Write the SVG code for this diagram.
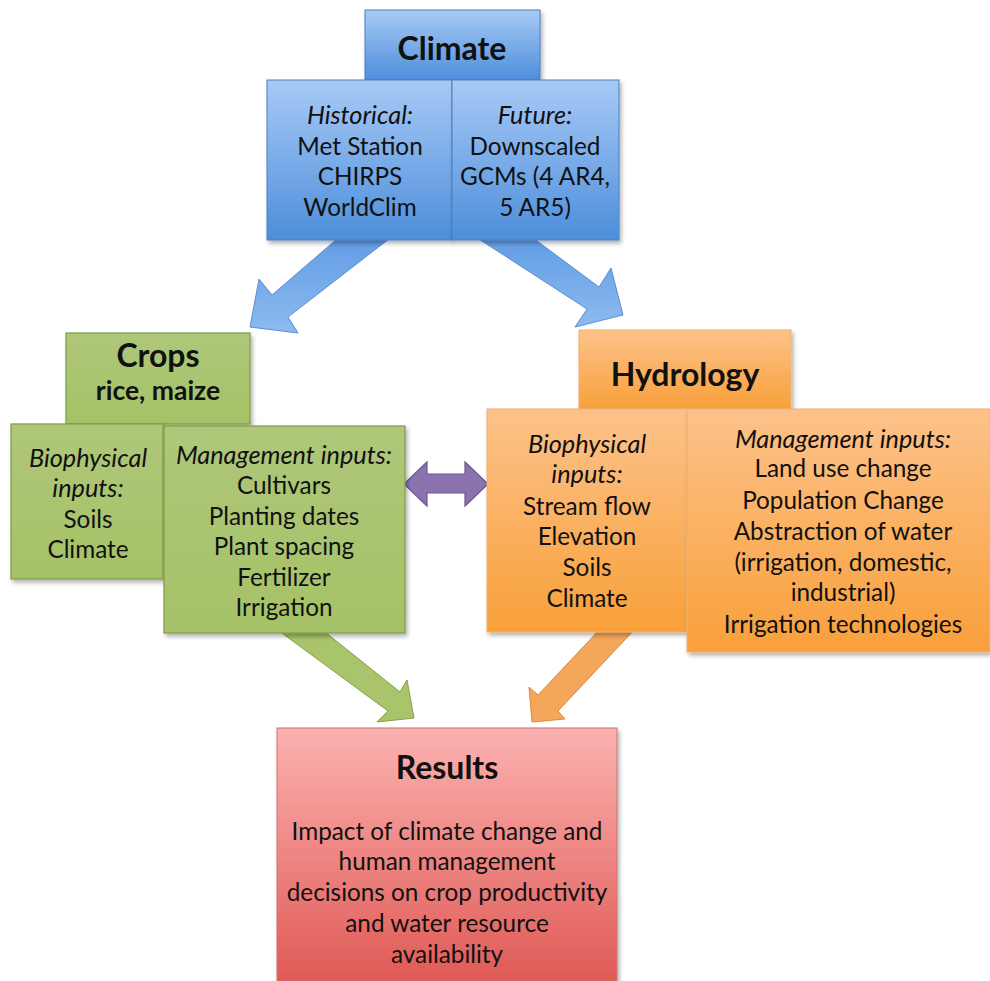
<svg xmlns="http://www.w3.org/2000/svg" width="990" height="981" viewBox="0 0 990 981">
<defs>
<linearGradient id="gBlue" x1="0" y1="0" x2="0" y2="1"><stop offset="0" stop-color="#a8caf5"/><stop offset="1" stop-color="#4d8edb"/></linearGradient>
<linearGradient id="gBlueArr" x1="0" y1="0" x2="0" y2="1"><stop offset="0" stop-color="#5f9be3"/><stop offset="1" stop-color="#8dbaf0"/></linearGradient>
<linearGradient id="gGreen" x1="0" y1="0" x2="0" y2="1"><stop offset="0" stop-color="#aec77a"/><stop offset="1" stop-color="#a6c266"/></linearGradient>
<linearGradient id="gOrange" x1="0" y1="0" x2="0" y2="1"><stop offset="0" stop-color="#fdc28a"/><stop offset="1" stop-color="#f8a03a"/></linearGradient>
<linearGradient id="gRed" x1="0" y1="0" x2="0" y2="1"><stop offset="0" stop-color="#fbb2b0"/><stop offset="1" stop-color="#e05a56"/></linearGradient>
<filter id="sh" x="-10%" y="-10%" width="120%" height="120%"><feDropShadow dx="2" dy="3" stdDeviation="2" flood-color="#000" flood-opacity="0.3"/></filter>
</defs>
<style>
text{font-family:Lato,"Open Sans","Liberation Sans",sans-serif;fill:#111;text-anchor:middle}
.t{font-weight:bold;font-size:32px}
.s{font-weight:bold;font-size:26.5px}
.b{font-size:24.3px}
.i{font-style:italic;font-size:25.3px}
.blue{fill:url(#gBlue);stroke:#4a7fc4;stroke-width:1}
.green{fill:url(#gGreen);stroke:#7f9c43;stroke-width:1.2}
.orange{fill:url(#gOrange);stroke:#f0b070;stroke-width:1}
.red{fill:url(#gRed);stroke:#d07070;stroke-width:1}
</style>
<g id="connectors">
<polygon points="345,232 272,295 259,279 250,327 298,333 288,317 398,232" fill="url(#gBlueArr)" stroke="#5b8fd0" stroke-width="1"/>
<polygon points="468,232 587,309 575,327 623,315 611,268 599,287 525,232" fill="url(#gBlueArr)" stroke="#5b8fd0" stroke-width="1"/>
<polygon points="275,628 388,711 377,722 414,718 407,680 400,692 320,628" fill="#a9c46b" stroke="#86a04a" stroke-width="1"/>
<polygon points="601,628 538,695 529,687 532,722 565,719 558,711 636,628" fill="#f4a65a" stroke="#d98c3c" stroke-width="1"/>
<polygon points="404,484 427,462 427,474 465,474 465,462 488,484 465,506 465,493 427,493 427,506" fill="#8b73b0" stroke="#6b5690" stroke-width="1.2"/>
</g>
<g id="climate">
<rect x="365" y="10" width="175" height="70" class="blue" filter="url(#sh)"/>
<text x="452" y="60" class="t">Climate</text>
</g>
<g id="climate-historical">
<rect x="267" y="80" width="185" height="160" class="blue" filter="url(#sh)"/>
<text x="360" y="124" class="i">Historical:</text>
<text x="360" y="155" class="b">Met Station</text>
<text x="360" y="185" class="b">CHIRPS</text>
<text x="360" y="216" class="b">WorldClim</text>
</g>
<g id="climate-future">
<rect x="452" y="80" width="167" height="160" class="blue" filter="url(#sh)"/>
<text x="535" y="124" class="i">Future:</text>
<text x="535" y="155" class="b">Downscaled</text>
<text x="535" y="185" class="b">GCMs (4 AR4,</text>
<text x="535" y="216" class="b">5 AR5)</text>
</g>
<g id="crops">
<rect x="66" y="333" width="184" height="91" class="green" filter="url(#sh)"/>
<text x="158" y="367" class="t">Crops</text>
<text x="158" y="400" class="s">rice, maize</text>
</g>
<g id="crops-biophysical">
<rect x="11" y="424" width="152" height="155" class="green" filter="url(#sh)"/>
<text x="88" y="467" class="i">Biophysical</text>
<text x="88" y="497" class="i">inputs:</text>
<text x="88" y="528" class="b">Soils</text>
<text x="88" y="558" class="b">Climate</text>
</g>
<g id="crops-management">
<rect x="164" y="426" width="241" height="207" class="green" filter="url(#sh)"/>
<text x="284" y="464" class="i">Management inputs:</text>
<text x="284" y="494" class="b">Cultivars</text>
<text x="284" y="525" class="b">Planting dates</text>
<text x="284" y="555" class="b">Plant spacing</text>
<text x="284" y="586" class="b">Fertilizer</text>
<text x="284" y="616" class="b">Irrigation</text>
</g>
<g id="hydrology">
<rect x="579" y="330" width="212" height="79" class="orange" filter="url(#sh)"/>
<text x="685" y="386" class="t">Hydrology</text>
</g>
<g id="hydrology-biophysical">
<rect x="487" y="409" width="200" height="223" class="orange" filter="url(#sh)"/>
<text x="587" y="453" class="i">Biophysical</text>
<text x="587" y="483" class="i">inputs:</text>
<text x="587" y="515" class="b">Stream flow</text>
<text x="587" y="545" class="b">Elevation</text>
<text x="587" y="576" class="b">Soils</text>
<text x="587" y="607" class="b">Climate</text>
</g>
<g id="hydrology-management">
<rect x="687" y="409" width="303" height="243" class="orange" filter="url(#sh)"/>
<text x="843" y="448" class="i">Management inputs:</text>
<text x="843" y="477" class="b">Land use change</text>
<text x="843" y="509" class="b">Population Change</text>
<text x="843" y="540" class="b">Abstraction of water</text>
<text x="843" y="571" class="b">(irrigation, domestic,</text>
<text x="843" y="601" class="b">industrial)</text>
<text x="843" y="633" class="b">Irrigation technologies</text>
</g>
<g id="results">
<rect x="277" y="728" width="340" height="253" class="red" filter="url(#sh)"/>
<text x="447" y="779" class="t">Results</text>
<text x="447" y="840" class="b">Impact of climate change and</text>
<text x="447" y="870" class="b">human management</text>
<text x="447" y="901" class="b">decisions on crop productivity</text>
<text x="447" y="932" class="b">and water resource</text>
<text x="447" y="963" class="b">availability</text>
</g>
</svg>
